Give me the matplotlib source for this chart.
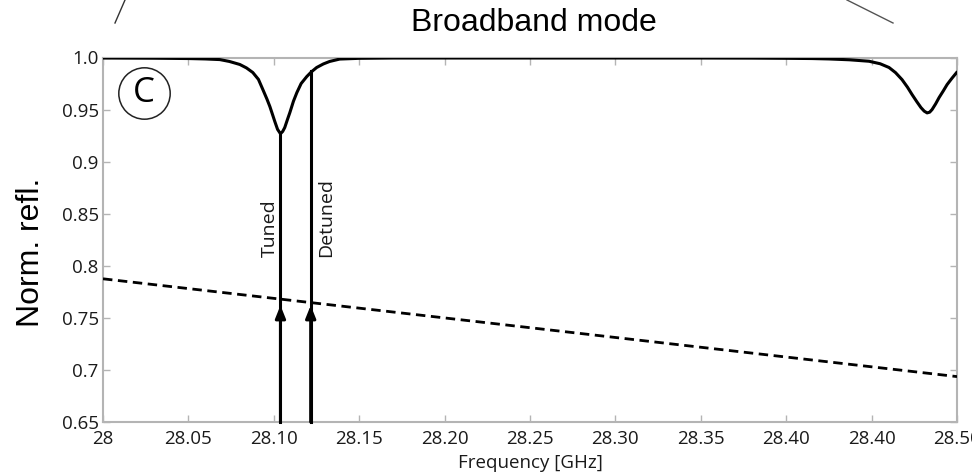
import numpy as np
import matplotlib
matplotlib.use('Agg')
import matplotlib.pyplot as plt
from matplotlib.lines import Line2D

# reflection curve (two resonance dips), read point by point
freq = [28.000, 28.030, 28.050, 28.060, 28.0684, 28.0740, 28.0801, 28.0840, 28.0877,
        28.0910, 28.0936, 28.0960, 28.0977, 28.0993, 28.1006, 28.1022, 28.1039,
        28.1052, 28.1064, 28.1080, 28.1094, 28.1115, 28.1135, 28.1160, 28.1193,
        28.1220, 28.1251, 28.1290, 28.1327, 28.1386, 28.150, 28.170, 28.200,
        28.250, 28.300, 28.350, 28.380, 28.400, 28.4150, 28.4251, 28.4370,
        28.4485, 28.4550, 28.4602, 28.4640, 28.4678, 28.4710, 28.4737, 28.4765,
        28.4789, 28.4808, 28.4825, 28.4840, 28.4854, 28.4875, 28.4895, 28.4920,
        28.4942, 28.4970, 28.500]
refl = [0.9995, 0.9993, 0.9990, 0.9986, 0.9980, 0.9962, 0.9933, 0.9900, 0.9856,
        0.9790, 0.9692, 0.9600, 0.9529, 0.9450, 0.9385, 0.9310, 0.9268,
        0.9290, 0.9327, 0.9405, 0.9471, 0.9580, 0.9663, 0.9750, 0.9817,
        0.9862, 0.9904, 0.9938, 0.9962, 0.9985, 0.9992, 0.9995, 0.9995,
        0.9995, 0.9995, 0.9995, 0.9994, 0.9992, 0.9990, 0.9986, 0.9978,
        0.9964, 0.9940, 0.9904, 0.9855, 0.9788, 0.9715, 0.9644, 0.9575,
        0.9519, 0.9485, 0.9468, 0.9475, 0.9500, 0.9555, 0.9615, 0.9680,
        0.9740, 0.9800, 0.9860]

# dotted reference line
ref_f = [28.0, 28.5]
ref_v = [0.7875, 0.6936]

# tuned / detuned excitation frequencies and where their lines stop
tones = ['Tuned', 'Detuned']
tone_f = [28.1039, 28.1216]
tone_top = [0.9268, 0.9870]
arrow_tip = 0.762
label_f = [28.0977, 28.1304]
label_v = 0.8087

xticks = [28.0, 28.05, 28.10, 28.15, 28.20, 28.25, 28.30, 28.35, 28.40, 28.45, 28.50]
xlabels = ['28', '28.05', '28.10', '28.15', '28.20', '28.25', '28.30', '28.35',
           '28.40', '28.40', '28.50']
yticks = [0.65, 0.7, 0.75, 0.8, 0.85, 0.9, 0.95, 1.0]
ylabels = ['0.65', '0.7', '0.75', '0.8', '0.85', '0.9', '0.95', '1.0']

tick_font = 'Open Sans'
head_font = 'Liberation Sans'
spine_col = '#b4b4b4'
text_col = '#1a1a1a'

fig = plt.figure(figsize=(9.72, 4.74), dpi=100)
ax = fig.add_axes([103 / 972, 1 - 422 / 474, 854 / 972, 364.5 / 474])

ax.plot(freq, refl, color='black', lw=2.2, solid_capstyle='round', zorder=4)
ax.plot(ref_f, ref_v, color='black', lw=2.0, dashes=(3.4, 2.0), zorder=3)

for name, f, top, lf in zip(tones, tone_f, tone_top, label_f):
    ax.plot([f, f], [0.65, top], color='black', lw=2.2, zorder=4, clip_on=False)
    ax.annotate('', xy=(f, arrow_tip), xytext=(f, 0.65),
                arrowprops=dict(arrowstyle='-|>,head_length=0.75,head_width=0.3',
                                color='black', lw=2.2, shrinkA=0, shrinkB=0),
                zorder=5)
    ax.text(lf, label_v, name, rotation=90, ha='center', va='bottom',
            fontsize=14, family=tick_font, color=text_col)

# panel letter
ax.plot([28.024], [0.9663], marker='o', ms=37, mfc='none', mec='#222222', mew=1.1)
ax.text(28.024, 0.9663, 'C', ha='center', va='center', fontsize=25,
        family=tick_font, color='black')

ax.set_xlim(28.0, 28.5)
ax.set_ylim(0.65, 1.0)
ax.set_xticks(xticks)
ax.set_xticklabels(xlabels)
ax.set_yticks(yticks)
ax.set_yticklabels(ylabels)
ax.tick_params(direction='in', length=5, width=1, color=spine_col,
               top=True, right=True, labelsize=13.5, labelcolor=text_col)
ax.tick_params(axis='x', pad=6)
ax.tick_params(axis='y', pad=3)
for lbl in ax.get_xticklabels() + ax.get_yticklabels():
    lbl.set_family(tick_font)
for sp in ax.spines.values():
    sp.set_color(spine_col)
    sp.set_linewidth(1.5)

ax.set_xlabel('Frequency [GHz]', fontsize=13.5, family=tick_font,
              color=text_col, labelpad=4)
fig.text(31 / 972, 1 - 252 / 474, 'Norm. refl.', rotation=90, ha='center',
         va='center', fontsize=23, family=head_font)
fig.text(534 / 972, 1 - 23 / 474, 'Broadband mode', ha='center', va='center',
         fontsize=23, family=head_font)

# callout lines at the top edge
fig.add_artist(Line2D([125 / 972, 115 / 972], [1, 1 - 23 / 474],
                      color='#333333', lw=1.0))
fig.add_artist(Line2D([847 / 972, 893 / 972], [1, 1 - 23 / 474],
                      color='#555555', lw=1.0))

fig.savefig('out.png', dpi=100)
